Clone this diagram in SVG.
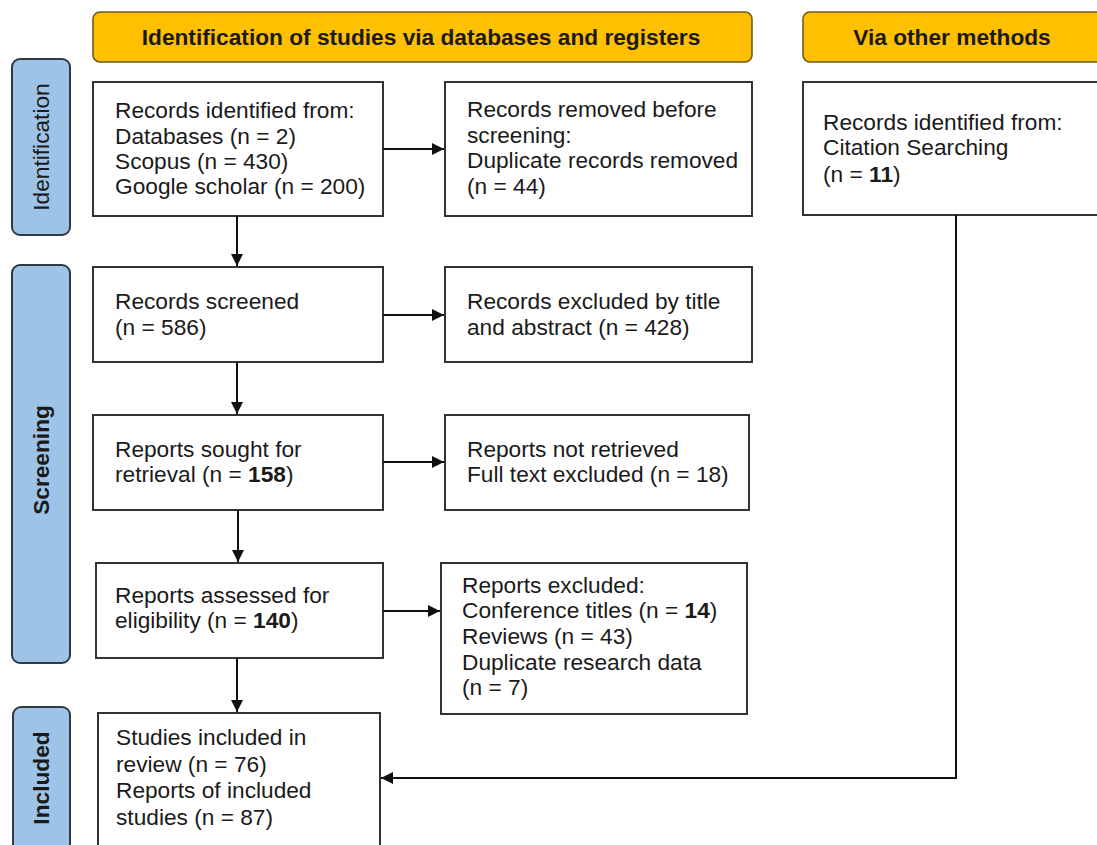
<svg xmlns="http://www.w3.org/2000/svg" width="1097" height="845" viewBox="0 0 1097 845">
<style>
.box{fill:#fff;stroke:#333;stroke-width:2}
.hdr{fill:#FFC000;stroke:#6b5a1e;stroke-width:1.6}
.side{fill:#9DC3E6;stroke:#2e3a46;stroke-width:2}
.t{font-family:"Liberation Sans",Arial,sans-serif;font-size:22.7px;fill:#1a1a1a}
.h{font-family:"Liberation Sans",Arial,sans-serif;font-size:22.7px;font-weight:bold;fill:#1a1a1a;text-anchor:middle}
.s{font-family:"Liberation Sans",Arial,sans-serif;font-size:22.7px;fill:#1a1a1a;text-anchor:middle;dominant-baseline:central}
.b{font-weight:bold}
.c{fill:none;stroke:#111;stroke-width:2}
</style>
<defs>
<marker id="arr" viewBox="0 0 10 10" refX="10" refY="5" markerWidth="6" markerHeight="6" orient="auto" markerUnits="strokeWidth">
<path d="M0,0 L10,5 L0,10 z" fill="#111"/>
</marker>
</defs>
<rect width="1097" height="845" fill="#fff"/>

<g id="hdr-main"><rect class="hdr" x="93" y="12" width="659" height="50" rx="7"/><text class="h" x="421" y="45">Identification of studies via databases and registers</text></g>
<g id="hdr-other"><rect class="hdr" x="803" y="12" width="300" height="50" rx="7"/><text class="h" x="952" y="45">Via other methods</text></g>

<g id="side-identification"><rect class="side" x="12" y="59" width="58" height="176" rx="8"/><text class="s" transform="translate(41,147) rotate(-90)">Identification</text></g>
<g id="side-screening"><rect class="side" x="12" y="265" width="58" height="398" rx="8"/><text class="s b" transform="translate(41,460) rotate(-90)">Screening</text></g>
<g id="side-included"><rect class="side" x="13" y="707" width="57" height="160" rx="8"/><text class="s b" transform="translate(41,778) rotate(-90)">Included</text></g>

<g id="n-identified"><rect class="box" x="93" y="82" width="290" height="134"/>
<text class="t" x="115" y="118">Records identified from:</text>
<text class="t" x="115" y="144">Databases (n = 2)</text>
<text class="t" x="115" y="169">Scopus (n = 430)</text>
<text class="t" x="115" y="194">Google scholar (n = 200)</text></g>

<g id="n-removed"><rect class="box" x="445" y="82" width="307" height="134"/>
<text class="t" x="467" y="117">Records removed before</text>
<text class="t" x="467" y="143">screening:</text>
<text class="t" x="467" y="168">Duplicate records removed</text>
<text class="t" x="467" y="194">(n = 44)</text></g>

<g id="n-other"><rect class="box" x="803" y="82" width="300" height="133"/>
<text class="t" x="823" y="130">Records identified from:</text>
<text class="t" x="823" y="155">Citation Searching</text>
<text class="t" x="823" y="182">(n = <tspan class="b">11</tspan>)</text></g>

<g id="n-screened"><rect class="box" x="93" y="267" width="290" height="95"/>
<text class="t" x="115" y="309">Records screened</text>
<text class="t" x="115" y="335">(n = 586)</text></g>

<g id="n-excluded"><rect class="box" x="445" y="267" width="307" height="95"/>
<text class="t" x="467" y="309">Records excluded by title</text>
<text class="t" x="467" y="335">and abstract (n = 428)</text></g>

<g id="n-sought"><rect class="box" x="93" y="415" width="290" height="95"/>
<text class="t" x="115" y="457">Reports sought for</text>
<text class="t" x="115" y="482">retrieval (n = <tspan class="b">158</tspan>)</text></g>

<g id="n-notretrieved"><rect class="box" x="445" y="415" width="304" height="95"/>
<text class="t" x="467" y="457">Reports not retrieved</text>
<text class="t" x="467" y="482">Full text excluded (n = 18)</text></g>

<g id="n-assessed"><rect class="box" x="96" y="563" width="287" height="95"/>
<text class="t" x="115" y="603">Reports assessed for</text>
<text class="t" x="115" y="628">eligibility (n = <tspan class="b">140</tspan>)</text></g>

<g id="n-repexcluded"><rect class="box" x="441" y="563" width="306" height="151"/>
<text class="t" x="462" y="593">Reports excluded:</text>
<text class="t" x="462" y="618">Conference titles (n = <tspan class="b">14</tspan>)</text>
<text class="t" x="462" y="644">Reviews (n = 43)</text>
<text class="t" x="462" y="670">Duplicate research data</text>
<text class="t" x="462" y="695">(n = 7)</text></g>

<g id="n-included"><rect class="box" x="98" y="713" width="282" height="150"/>
<text class="t" x="116" y="745">Studies included in</text>
<text class="t" x="116" y="772">review (n = 76)</text>
<text class="t" x="116" y="798">Reports of included</text>
<text class="t" x="116" y="825">studies (n = 87)</text></g>

<g id="connectors">
<line class="c" x1="237" y1="216" x2="237" y2="266" marker-end="url(#arr)"/>
<line class="c" x1="237" y1="362" x2="237" y2="414" marker-end="url(#arr)"/>
<line class="c" x1="238" y1="510" x2="238" y2="562" marker-end="url(#arr)"/>
<line class="c" x1="237" y1="658" x2="237" y2="712" marker-end="url(#arr)"/>
<line class="c" x1="383" y1="149" x2="444" y2="149" marker-end="url(#arr)"/>
<line class="c" x1="383" y1="315" x2="444" y2="315" marker-end="url(#arr)"/>
<line class="c" x1="383" y1="462" x2="444" y2="462" marker-end="url(#arr)"/>
<line class="c" x1="383" y1="611" x2="440" y2="611" marker-end="url(#arr)"/>
<polyline class="c" points="956,215 956,778 381,778" marker-end="url(#arr)"/>
</g>
</svg>
